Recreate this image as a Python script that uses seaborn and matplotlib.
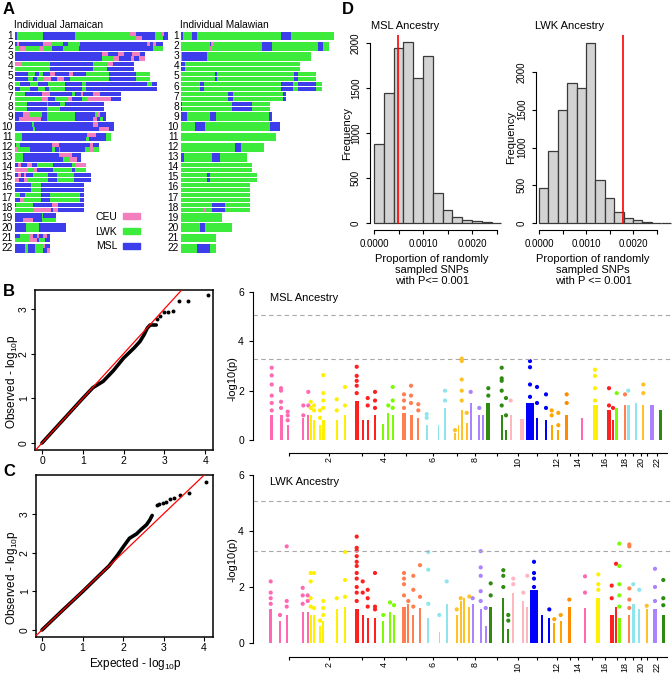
import matplotlib
matplotlib.use("Agg")
import numpy as np
import pandas as pd
import matplotlib.pyplot as plt
from matplotlib.patches import Patch
import seaborn as sns

W, H = 672, 674

# ---------------- panel A : local ancestry painting ----------------
anc_colors = {'C': '#F27EBE', 'L': '#3DEB3D', 'M': '#3D3DEB'}
anc_labels = ['CEU', 'LWK', 'MSL']

# each string: ancestry code + segment end position, per haplotype
jam_hap1 = [
    "M6 L86 M181 L346 C364 M421 L441 C448 M461",
    "M6 C12 M86 C111 L146 M161 L196 M396 C406 M416 C424 M446",
    "M261 C281 M311 C328 M351 C376 M391",
    "C21 L106 M234 L276 C296 M358",
    "M41 L61 M74 L86 M106 C121 M164 C176 M214 L284 M363 L406",
    "L16 M46 L71 M101 L151 M201 L214 M396 L411 M426",
    "L31 M81 C106 M171 L181 M198 C206 M236 C256 M318",
    "L36 M96 L101 M136 L151 M268",
    "M26 C46 L81 M96 L181 M241 L248 C256 M274",
    "M51 L59 M236 C251 M298",
    "L21 M216 C244 M274 L288",
    "M4 L16 M111 C134 M226 C236 M252",
    "L24 M134 C171 M199",
    "M11 C18 M36 C51 M68 L116 M171 L181 C214",
    "M11 C18 M28 C34 M56 L101 M128 L178 M229",
    "M48 L78 M208",
    "L16 M31 L78 M106 L196 M208",
    "M4 L54 M111 C131 M209",
    "M81 L86 M123",
    "M34 L74 M154",
    "M16 L46 C56 M68 C74 M84 C96 M107",
    "M31 L41 M61 L86 C91 M107",
]
jam_hap2 = [
    "M6 L86 M181 L365 C381 M421 L444 M461",
    "L16 C31 L74 C86 L111 M146 L194 M416 L446",
    "M261 L296 C314 M348 C358 M374 C391",
    "L106 M234 L276 M358",
    "M41 L56 M68 L86 C108 M126 C148 M166 L284 M363 L406",
    "M16 L46 M71 L91 M104 L151 M201 L214 M426",
    "L81 C101 M121 L161 C171 M201 L218 C288 M318",
    "L36 M96 L136 M268",
    "M14 C78 M96 L181 M236 C246 M256 L264 M274",
    "M54 L61 M254 C284 M298",
    "L21 M214 L224 M274 L288",
    "C6 L46 M111 L121 M134 L136 M211 L226 C236 L252",
    "L24 M146 L166 C186 M199",
    "C36 L54 C66 M116 L171 M181 L214",
    "C14 M28 C36 L101 M128 L178 M229",
    "M48 L78 M208",
    "M16 C28 L78 M106 L196 M208",
    "L54 C108 M114 C131 M209",
    "M26 C56 M81 L123",
    "M34 L74 M154",
    "L44 C66 M74 L91 M107",
    "M31 L41 M61 L86 M96 C107",
]
mal_hap1 = [
    "M8 L35 M48 L300 M332 L460",
    "L87 M90 C100 L245 M275 L411 M427 L444",
    "L5 M80 L390",
    "M12 L359",
    "L103 M110 L339 M351 L405",
    "L57 M71 L302 M337 L352 M405 L425",
    "L141 M158 L307 M317",
    "M5 L153 M213 L267",
    "M20 L89 M105 L265 M273",
    "L42 M72 L268 M297",
    "L287",
    "L163 M180 L251",
    "M10 L94 M118 L199",
    "L213",
    "L80 M89 L229",
    "L207",
    "L207",
    "L94 M133 L208",
    "L123",
    "L58 M72 L154",
    "L106",
    "L50 M87 L107",
]
mal_hap2 = list(mal_hap1)
mal_hap2[1] = "L87 C90 L245 M275 L411 M427 L444"
mal_hap2[17] = "L70 C73 L94 M133 L208"

# ---------------- panel D : permutation histograms ----------------
hist_bin = 0.0002
msl_counts = [875, 1444, 1940, 2010, 1607, 1852, 333, 148, 67, 37, 18, 6, 3]
lwk_counts = [468, 954, 1501, 1854, 1784, 2389, 565, 336, 146, 71, 35, 9, 4, 2]
msl_observed = 0.000496
lwk_observed = 0.00178

# ---------------- panels B/C : QQ plots ----------------
qq_msl_exp = [0, 0.25, 0.5, 0.75, 1.0, 1.25, 1.5, 1.75, 2.0, 2.25, 2.4, 2.5, 2.58, 2.65, 2.8]
qq_msl_obs = [0, 0.25, 0.5, 0.75, 1.0, 1.24, 1.38, 1.62, 1.9, 2.12, 2.27, 2.42, 2.57, 2.64, 2.64]
qq_msl_top_exp = [2.83, 2.9, 2.98, 3.1, 3.21, 3.37, 3.59, 4.07]
qq_msl_top_obs = [2.77, 2.84, 2.92, 2.93, 2.96, 3.18, 3.18, 3.3]

qq_lwk_exp = [0, 0.5, 1.0, 1.5, 1.65, 1.84, 2.0, 2.16, 2.33, 2.45, 2.58, 2.66, 2.72]
qq_lwk_obs = [0, 0.5, 0.99, 1.5, 1.65, 1.9, 2.14, 2.37, 2.48, 2.6, 2.72, 2.84, 2.96]
qq_lwk_top_exp = [2.83, 2.9, 2.99, 3.07, 3.17, 3.25, 3.4, 3.63, 4.05]
qq_lwk_top_obs = [3.23, 3.25, 3.28, 3.32, 3.38, 3.42, 3.5, 3.55, 3.82]

# ---------------- Manhattan plots ----------------
chrom_mid = [49, 89, 122, 144, 166, 193, 217, 235, 257, 278, 297,
             317, 330, 338, 352, 365, 377, 385, 393, 401, 407, 417]
chrom_colors = ['#FF69B4', '#FFF000', '#FF2020', '#7CFC00', '#FF7F50', '#8EE5EE', '#FFC125',
                '#AB82FF', '#2E8B10', '#FFB6C1', '#0000FF', '#FFA500', '#FF8C00']
suggestive = 3.28
genomewide = 5.07

# (chromosome, position, column width, dense top, isolated -log10 p values)
msl_snps = [
    (1, 31.7, 3, 1.0, [1.2, 1.5, 1.8, 2.25, 2.62, 2.93]), (1, 41, 3, 1.0, [1.3, 1.55, 2.0, 2.1]),
    (1, 47.7, 2, 0.6, [0.8, 1.0, 1.15]), (1, 63.3, 2, 0.9, [1.0, 1.4]), (1, 68.3, 2, 1.0, [1.4, 1.95]),
    (2, 70.7, 2, 1.0, [1.3, 1.55]), (2, 74, 2, 0.8, [1.2, 1.4]), (2, 80, 2, 0.6, [0.9, 1.2]),
    (2, 83.3, 3, 0.8, [1.3, 1.6, 1.9, 2.63]), (2, 96.7, 2, 0.8, [1.2, 1.65]), (2, 105, 2, 1.0, [1.4, 2.15]),
    (3, 116.7, 4, 1.6, [1.9, 2.2, 2.4, 2.6, 2.97]), (3, 122.7, 2, 0.8, []), (3, 127.7, 2, 0.8, [1.4, 1.7]),
    (3, 135, 2, 1.0, [1.3, 1.6, 1.95]),
    (4, 142.7, 2, 0.65, []), (4, 148.3, 2, 1.1, [1.4]), (4, 152.7, 2, 1.0, [1.3, 1.6, 2.15]),
    (5, 164, 4, 1.1, [1.3, 1.6, 1.85]), (5, 171, 3, 1.0, [1.5, 1.8, 2.2]), (5, 178.3, 2, 0.9, [1.2, 1.45]),
    (6, 186.7, 2, 0.6, [0.9, 1.05]), (6, 198.3, 1.5, 0.6, []), (6, 205, 2, 1.3, [1.6, 2.0]),
    (7, 215, 1.5, 0.3, [0.4]), (7, 218.3, 1.5, 0.6, []), (7, 221.7, 2, 1.2, [1.6, 2.0, 2.45, 3.2, 3.3]),
    (7, 226.7, 2, 0.7, [1.1]),
    (8, 230.7, 2, 1.5, [1.95]), (8, 239.3, 2, 1.0, [1.3]), (8, 243.3, 2, 1.0, []),
    (9, 248.3, 4, 1.5, [1.8, 2.1]), (9, 261.7, 2, 1.0, [1.4, 2.0, 2.4, 2.5, 2.93]), (9, 266, 2, 0.4, [1.0, 1.7]),
    (10, 270.7, 2, 1.0, [1.6]), (10, 281.7, 4, 0.85, []),
    (11, 290, 8, 1.5, [1.75, 2.25, 2.95, 3.2]), (11, 297, 2, 0.9, [1.5, 2.15]), (11, 306, 2, 0.8, [1.3, 1.85]),
    (12, 311.7, 2, 0.6, [1.0, 1.2]), (12, 318.3, 2, 0.4, [0.6, 1.1]),
    (13, 326.7, 3, 1.0, [1.5, 1.85]),
    (14, 341.7, 2, 0.9, []),
    (15, 355, 5, 1.4, [1.6, 2.1, 2.6, 2.85]),
    (16, 369, 4, 1.2, [1.4, 2.1]), (16, 373, 2, 0.8, [1.3]),
    (17, 376.7, 3, 1.3, [1.9]),
    (18, 385, 2, 1.4, [1.85]),
    (19, 388.3, 3, 1.4, [2.0]), (19, 396, 2, 1.5, []),
    (20, 403.3, 2, 1.4, [1.9, 2.25]),
    (21, 411.7, 4, 1.4, []),
    (22, 420, 3, 1.2, []),
]
lwk_snps = [
    (1, 30.7, 3, 1.2, [1.4, 1.6, 1.8, 2.2]), (1, 40, 2, 0.8, [1.0]), (1, 46.7, 2, 1.0, [1.3, 1.5, 3.45]),
    (1, 62.7, 2, 1.1, [1.4, 1.7, 1.97]), (1, 67.7, 2, 1.1, [1.5, 1.7]),
    (2, 70.7, 2, 1.0, [1.3, 1.6, 2.2, 2.5]), (2, 74, 2, 1.0, [1.25, 2.5]), (2, 80, 2, 0.6, [0.8]),
    (2, 83.3, 2, 0.8, [1.0, 1.25, 1.5]), (2, 96.7, 2, 1.2, [1.6]), (2, 105, 2, 1.3, [1.65, 2.25, 3.25]),
    (3, 116.7, 4, 1.2, [1.5, 1.8, 2.0, 2.3, 2.5, 2.75, 2.9, 3.1, 3.3, 3.4, 3.8]),
    (3, 122.7, 2, 1.0, [1.8, 2.2]), (3, 127.7, 2, 0.9, [1.3, 1.6, 1.9]), (3, 135, 2, 0.9, [1.2, 1.3, 2.5]),
    (4, 143.3, 2, 0.8, [1.0]), (4, 150, 2, 1.1, [1.45]), (4, 154, 2, 1.0, [1.35]),
    (5, 164, 4, 1.3, [1.7, 2.1, 2.3, 2.5]), (5, 168.3, 2, 1.4, [1.5]), (5, 173.3, 2, 1.0, [1.3, 1.9, 2.4]),
    (5, 180, 2, 1.25, [1.65, 2.78]),
    (6, 188.3, 2, 0.9, [1.4, 2.62, 3.25]), (6, 199.3, 1.5, 0.4, [1.0]), (6, 206.7, 2, 1.4, [2.2]),
    (7, 216.7, 2, 1.0, [1.2]), (7, 220.7, 2, 1.5, [1.6]), (7, 224, 2, 1.6, []), (7, 229.3, 2, 1.3, [1.66]),
    (8, 232.7, 2, 1.4, [1.6]), (8, 240.7, 2, 1.2, [1.5, 1.85, 2.4, 2.7, 3.28]), (8, 245.7, 2, 0.6, [1.25]),
    (9, 250.7, 3, 1.3, [1.7, 2.13]), (9, 263.3, 2, 1.6, [2.0, 2.4, 2.6]), (9, 268.3, 2, 0.5, [0.8, 1.0]),
    (10, 273.3, 2, 1.8, [2.1, 2.3]), (10, 283.3, 2, 1.5, [1.8]), (10, 287.3, 2, 1.3, [2.4]),
    (11, 294, 8, 1.9, [2.0, 2.3, 2.5, 2.9]), (11, 301.7, 2, 1.0, []), (11, 309.3, 2, 0.9, [1.2]),
    (12, 314.3, 2, 0.7, [0.85]), (12, 320.7, 2, 0.8, [1.0]),
    (13, 329.3, 3, 1.3, [1.55]),
    (14, 345, 2, 1.25, [1.8, 2.38]),
    (15, 358.3, 4, 1.6, [1.9, 2.1, 2.45]),
    (16, 371.7, 4, 1.0, [1.6, 2.05]), (16, 376, 2, 1.3, [2.83]),
    (17, 379.3, 3, 0.9, [1.3, 1.7, 2.1, 2.75, 3.55]),
    (18, 389.3, 2, 1.0, [1.25, 1.55, 1.95, 3.45, 3.52]),
    (19, 393.3, 3, 1.4, [2.1]), (19, 399.3, 2, 1.2, [1.9]),
    (20, 406.7, 2, 1.2, [1.33]),
    (21, 415, 4, 1.2, [1.5, 2.0, 2.65]),
    (22, 423.3, 3, 1.0, [1.35, 1.6, 2.25]),
]

sns.set_style("ticks")
plt.rcParams['font.family'] = ['Liberation Sans', 'DejaVu Sans']
plt.rcParams['axes.edgecolor'] = 'black'
plt.rcParams['xtick.color'] = 'black'
plt.rcParams['ytick.color'] = 'black'
plt.rcParams['text.color'] = 'black'
plt.rcParams['axes.labelcolor'] = 'black'
plt.rcParams['mathtext.default'] = 'regular'

fig = plt.figure(figsize=(W / 100, H / 100), dpi=100)


def px_axes(x0, y0, x1, y1):
    return fig.add_axes([x0 / W, 1 - y1 / H, (x1 - x0) / W, (y1 - y0) / H])


def ftext(x, y, s, **kw):
    fig.text(x / W, 1 - y / H, s, **kw)


def parse_hap(s):
    segs, start = [], 0.0
    for tok in s.split():
        end = float(tok[1:])
        segs.append((start, end - start, tok[0]))
        start = end
    return segs


def draw_painting(ax, hap1, hap2):
    for i, (h1, h2) in enumerate(zip(hap1, hap2)):
        k = i + 1
        for off, h in ((-0.235, h1), (0.235, h2)):
            for left, width, code in parse_hap(h):
                ax.barh(k + off, width, left=left, height=0.42,
                        color=anc_colors[code], linewidth=0)
        ax.text(-5, k, str(k), ha='right', va='center', fontsize=7.3)
    ax.set_xlim(-44, 472)
    ax.set_ylim(1 + (256 - 36) / 10.1, 1 + (30 - 36) / 10.1)
    ax.axis('off')


# panel A
axA1 = px_axes(0, 30, 172, 256)
draw_painting(axA1, jam_hap1, jam_hap2)
axA2 = px_axes(166, 30, 338, 256)
draw_painting(axA2, mal_hap1, mal_hap2)
ftext(14, 25, "Individual Jamaican", fontsize=7.3, va='center')
ftext(180, 25, "Individual Malawian", fontsize=7.3, va='center')
handles = [Patch(color=anc_colors[c], label=l) for c, l in zip(['C', 'L', 'M'], anc_labels)]
fig.legend(handles=handles, markerfirst=False, frameon=False, fontsize=7.5,
           handlelength=1.6, handleheight=0.55, labelspacing=0.45, handletextpad=0.6,
           loc='upper right', bbox_to_anchor=(140 / W, 1 - 212 / H), borderaxespad=0, borderpad=0)


# panel D
def draw_hist(ax, counts, observed, xlim, ylim):
    edges = [i * hist_bin for i in range(len(counts) + 1)]
    dfh = pd.DataFrame({'prop': [e + hist_bin / 2 for e in edges[:-1]], 'n': counts})
    sns.histplot(data=dfh, x='prop', weights='n', bins=edges, ax=ax, color='#D3D3D3',
                 edgecolor='#3a3a3a', linewidth=0.9, alpha=1)
    ax.set_xlim(*xlim)
    ax.set_ylim(*ylim)
    frac0 = (0 - ylim[0]) / (ylim[1] - ylim[0])
    ax.axvline(observed, ymin=frac0, ymax=1, color='red', lw=1.2)
    sns.despine(ax=ax)
    ax.spines['left'].set_bounds(0, 2000)
    ax.spines['bottom'].set_bounds(0, 0.0025)
    ax.set_xticks([0, 0.0005, 0.001, 0.0015, 0.002, 0.0025])
    ax.set_xticklabels(['0.0000', '', '0.0010', '', '0.0020', ''])
    ax.set_yticks([0, 500, 1000, 1500, 2000])
    ax.set_yticklabels(['0', '500', '1000', '1500', '2000'])
    ax.tick_params(labelsize=7, length=3, width=0.8)
    ax.tick_params(axis='y', labelrotation=90)
    for lab in ax.get_yticklabels():
        lab.set_va('center')
    ax.set_xlabel('')
    ax.set_ylabel('')


axD1 = px_axes(370, 35, 505, 230)
draw_hist(axD1, msl_counts, msl_observed, ((370 - 374) / 49000, (505 - 374) / 49000),
          (-(230 - 223) / 0.09, (223 - 35) / 0.09))
axD2 = px_axes(536, 35, 672, 230)
draw_hist(axD2, lwk_counts, lwk_observed, ((536 - 539) / 47000, (672 - 539) / 47000),
          (-(230 - 223) / 0.0755, (223 - 35) / 0.0755))
ftext(405, 26, "MSL Ancestry", fontsize=8, ha='center', va='center')
ftext(570, 26, "LWK Ancestry", fontsize=8, ha='center', va='center')
ftext(347, 133, "Frequency", fontsize=8, rotation=90, ha='center', va='center')
ftext(511, 137, "Frequency", fontsize=8, rotation=90, ha='center', va='center')
ftext(432, 270, "Proportion of randomly\nsampled SNPs\nwith P<= 0.001", fontsize=8,
      ha='center', va='center', linespacing=1.1)
ftext(593, 270, "Proportion of randomly\nsampled SNPs\nwith P <= 0.001", fontsize=8,
      ha='center', va='center', linespacing=1.1)


# QQ plots
def draw_qq(ax, ex, ob, tx, to, xlim, ylim):
    ax.axline((0, 0), slope=1, color='red', lw=0.9, zorder=3)
    sns.lineplot(x=ex, y=ob, color='black', linewidth=2.6, sort=False, estimator=None, ax=ax, zorder=2)
    sns.scatterplot(x=tx, y=to, color='black', s=8, linewidth=0, ax=ax, zorder=2)
    ax.set_xlim(*xlim)
    ax.set_ylim(*ylim)
    for sp in ax.spines.values():
        sp.set_linewidth(1.1)
    ax.set_xticks([0, 1, 2, 3, 4])
    ax.set_yticks([0, 1, 2, 3])
    ax.tick_params(labelsize=7.5, length=3, width=0.8, pad=1.5)
    ax.tick_params(axis='y', labelrotation=90)
    for lab in ax.get_yticklabels():
        lab.set_va('center')
    ax.set_xlabel('')
    ax.set_ylabel('')


axB1 = px_axes(35, 290, 213, 450)
draw_qq(axB1, qq_msl_exp, qq_msl_obs, qq_msl_top_exp, qq_msl_top_obs,
        ((35 - 42) / 40.8, (213 - 42) / 40.8), ((443 - 450) / 44.7, (443 - 290) / 44.7))
axC1 = px_axes(36, 475, 213, 637)
draw_qq(axC1, qq_lwk_exp, qq_lwk_obs, qq_lwk_top_exp, qq_lwk_top_obs,
        ((36 - 42) / 40.5, (213 - 42) / 40.5), ((630 - 637) / 38.7, (630 - 475) / 38.7))
ftext(12, 382, "Observed - log$_{10}$p", fontsize=8.5, rotation=90, ha='center', va='center')
ftext(12, 578, "Observed - log$_{10}$p", fontsize=8.5, rotation=90, ha='center', va='center')
ftext(135, 664, "Expected - log$_{10}$p", fontsize=8.5, ha='center', va='center')


# Manhattan plots
pal = {i + 1: chrom_colors[i % 13] for i in range(22)}


def draw_manhattan(ax, snps, title, offset):
    rows = []
    for chrom, pos, width, dense, tops in snps:
        ax.bar(pos, dense, width=width, color=pal[chrom], linewidth=0)
        for v in tops:
            rows.append((chrom, pos, v))
    df = pd.DataFrame(rows, columns=['chrom', 'pos', 'logp'])
    sns.scatterplot(data=df, x='pos', y='logp', hue='chrom', palette=pal, s=9,
                    linewidth=0, legend=False, ax=ax)
    ax.axhline(genomewide, color='#a8a8a8', lw=0.8, dashes=(4, 3))
    ax.axhline(suggestive, color='#a8a8a8', lw=0.8, dashes=(4, 3))
    ax.set_xlim(13, 432)
    ax.set_ylim(0, 6)
    sns.despine(ax=ax)
    ax.spines['bottom'].set_position(('outward', offset))
    ax.spines['bottom'].set_bounds(chrom_mid[0], 427)
    ax.spines['left'].set_bounds(0, 6)
    ax.set_xticks(chrom_mid)
    ax.set_xticklabels([str(c) if c % 2 == 0 else '' for c in range(1, 23)])
    ax.set_yticks([0, 2, 4, 6])
    ax.tick_params(labelsize=7.5, length=3, width=0.8)
    ax.tick_params(axis='x', labelrotation=90, labelsize=6.5, length=2.5, pad=1)
    ax.text(0.04, 0.96, title, transform=ax.transAxes, fontsize=8, va='center')
    ax.set_xlabel('')
    ax.set_ylabel('')


axB2 = px_axes(253, 292, 672, 440)
draw_manhattan(axB2, msl_snps, "MSL Ancestry", 9)
axC2 = px_axes(253, 475, 672, 643)
draw_manhattan(axC2, lwk_snps, "LWK Ancestry", 10)
ftext(233, 379, "-log10(p)", fontsize=8, rotation=90, ha='center', va='center')
ftext(233, 560, "-log10(p)", fontsize=8, rotation=90, ha='center', va='center')

# panel letters
for letter, x, y in [("A", 3, 10), ("D", 342, 10), ("B", 3, 291), ("C", 3, 471)]:
    ftext(x, y, letter, fontsize=12, fontweight='bold', va='center')

fig.savefig("out.png", dpi=100)
